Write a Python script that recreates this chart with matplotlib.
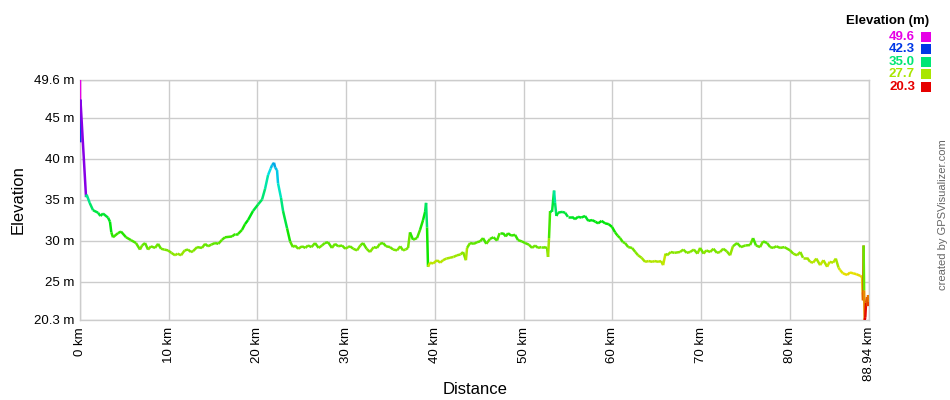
"""
Elevation profile (GPS Visualizer style) — distance vs elevation,
line coloured by elevation on a red -> green -> blue -> magenta hue scale.
"""

import colorsys

import matplotlib
matplotlib.use("Agg")
import matplotlib.pyplot as plt
import numpy as np
from matplotlib.collections import LineCollection

plt.rcParams["font.family"] = ["Liberation Sans", "DejaVu Sans"]

# ---------------------------------------------------------------------------
# Data
# ---------------------------------------------------------------------------

dist_km = [
    0.00, 0.02, 0.05, 0.68, 0.75,
    1.09, 1.47, 2.03, 2.30, 2.59, 3.16, 3.38, 3.53, 3.72, 4.28,
    4.62, 5.19, 5.75, 6.31, 6.76, 7.00, 7.33, 7.67, 8.00, 8.46,
    8.80, 9.13, 9.50, 9.92, 10.30, 10.71, 11.00, 11.39, 11.80, 12.18,
    12.50, 12.74, 13.20, 13.75, 14.10, 14.43, 14.80, 15.22, 15.60, 16.01,
    16.35, 17.14, 17.50, 17.81, 18.26, 18.60, 18.94, 19.50, 20.07, 20.52,
    20.86, 21.20, 21.50, 21.65, 21.87, 22.00, 22.21, 22.32, 22.66, 22.89,
    23.34, 23.68, 24.00, 24.24, 24.60, 25.03, 25.40, 25.70, 26.10, 26.49,
    26.90, 27.28, 27.60, 27.96, 28.40, 28.75, 29.10, 29.54, 29.90, 30.21,
    30.44, 30.80, 31.23, 31.60, 31.91, 32.30, 32.69, 33.10, 33.48, 33.80,
    34.16, 34.50, 34.95, 35.30, 35.74, 36.10, 36.41, 36.70, 36.98, 37.20,
    37.54, 37.99, 38.33, 38.67, 38.90, 39.01, 39.12, 39.23, 39.46, 39.80,
    40.25, 40.60, 40.92, 41.30, 41.71, 42.10, 42.50, 42.90, 43.18, 43.50,
    43.63, 43.97, 44.40, 44.76, 45.10, 45.43, 45.80, 46.22, 46.60, 47.01,
    47.30, 47.69, 48.00, 48.25, 48.60, 49.04, 49.38, 49.80, 50.17, 50.60,
    50.96, 51.30, 51.63, 52.00, 52.30, 52.65, 52.76, 52.87, 52.99, 53.21,
    53.44, 53.55, 53.70, 53.89, 54.34, 54.68, 55.00, 55.47, 55.80, 56.14,
    56.50, 56.93, 57.30, 57.72, 58.10, 58.40, 58.80, 59.19, 59.60, 59.98,
    60.32, 60.60, 60.88, 61.20, 61.44, 61.80, 62.23, 62.60, 62.91, 63.30,
    63.70, 64.10, 64.49, 64.80, 65.16, 65.50, 65.73, 66.00, 66.18, 66.60,
    67.00, 67.64, 68.00, 68.40, 68.77, 69.20, 69.60, 69.90, 70.30, 70.60,
    71.03, 71.40, 71.80, 72.15, 72.50, 72.90, 73.28, 73.60, 74.07, 74.50,
    75.00, 75.54, 75.87, 76.20, 76.66, 77.00, 77.45, 77.80, 78.13, 78.50,
    78.92, 79.40, 80.05, 80.40, 80.83, 81.20, 81.50, 81.96, 82.30, 82.64,
    83.00, 83.43, 83.80, 84.22, 84.50, 84.89, 85.20, 85.50, 85.68, 86.00,
    86.47, 86.80, 87.15, 87.50, 87.94, 88.16, 88.22, 88.27, 88.33, 88.39,
    88.45, 88.52, 88.61, 88.73, 88.80, 88.84, 88.94,
]

elev_m = [
    49.6, 42.0, 47.2, 35.3, 35.6,
    34.6, 33.7, 33.4, 33.0, 33.3, 32.8, 32.3, 31.0, 30.4, 30.9,
    31.1, 30.4, 30.05, 29.7, 28.9, 29.4, 29.7, 28.9, 29.3, 29.1,
    29.6, 29.0, 28.9, 28.8, 28.5, 28.2, 28.4, 28.2, 28.8, 28.9,
    28.6, 28.7, 29.2, 29.1, 29.6, 29.3, 29.5, 29.7, 29.6, 30.1,
    30.4, 30.5, 30.8, 30.8, 31.3, 32.0, 32.5, 33.6, 34.4, 35.0,
    36.3, 38.0, 38.8, 39.2, 39.5, 38.9, 38.6, 37.0, 35.2, 33.6,
    31.5, 29.9, 29.2, 29.4, 29.0, 29.3, 29.1, 29.4, 29.2, 29.7,
    29.1, 29.4, 29.7, 29.8, 29.1, 29.6, 29.3, 29.4, 29.0, 29.2,
    29.3, 29.0, 28.8, 29.4, 29.7, 29.0, 28.6, 29.2, 29.1, 29.6,
    29.7, 29.3, 29.2, 28.9, 28.8, 29.3, 28.8, 28.9, 29.1, 31.0,
    30.1, 30.3, 31.3, 32.5, 33.5, 34.6, 31.6, 26.8, 27.3, 27.2,
    27.6, 27.3, 27.6, 27.8, 27.9, 28.0, 28.2, 28.3, 28.6, 27.6,
    29.1, 29.7, 29.6, 29.8, 29.9, 30.3, 29.6, 30.2, 30.4, 30.0,
    30.9, 30.9, 30.5, 30.9, 30.6, 30.7, 30.05, 29.9, 29.7, 29.5,
    29.1, 29.4, 29.1, 29.2, 29.2, 29.1, 28.0, 30.3, 33.6, 33.5,
    36.1, 34.6, 33.0, 33.4, 33.5, 33.4, 32.9, 32.9, 32.6, 32.9,
    32.8, 33.0, 32.4, 32.5, 32.3, 32.1, 32.4, 32.1, 32.0, 31.65,
    31.0, 30.6, 30.3, 29.8, 29.7, 29.2, 29.1, 28.6, 28.2, 27.9,
    27.4, 27.5, 27.4, 27.5, 27.4, 27.5, 27.0, 28.4, 28.2, 28.6,
    28.5, 28.6, 28.9, 28.5, 28.6, 28.9, 28.4, 29.1, 28.4, 28.8,
    28.6, 29.0, 28.5, 28.6, 29.0, 28.7, 28.2, 29.3, 29.7, 29.2,
    29.4, 29.45, 30.3, 29.4, 29.2, 29.9, 29.7, 29.2, 29.1, 29.3,
    29.1, 29.2, 28.8, 28.4, 28.2, 28.6, 27.9, 27.9, 27.4, 27.3,
    27.8, 27.0, 27.6, 26.8, 27.4, 27.3, 27.8, 26.7, 26.4, 26.0,
    25.8, 26.1, 26.0, 25.9, 25.7, 25.55, 23.7, 22.7, 29.4, 23.9,
    20.3, 20.6, 22.4, 23.1, 22.0, 23.35, 22.5,
]

y_ticks = [20.3, 25, 30, 35, 40, 45, 49.6]
y_tick_labels = ["20.3 m", "25 m", "30 m", "35 m", "40 m", "45 m", "49.6 m"]
x_ticks = [0, 10, 20, 30, 40, 50, 60, 70, 80, 88.94]
x_tick_labels = ["0 km", "10 km", "20 km", "30 km", "40 km", "50 km",
                 "60 km", "70 km", "80 km", "88.94 km"]
legend_values = [49.6, 42.3, 35.0, 27.7, 20.3]

ELEV_MIN, ELEV_MAX = 20.3, 49.6
GRID = "#cccccc"


def elev_colour(v):
    # hue 0 (red) at the minimum up to 300 (magenta) at the maximum
    frac = (v - ELEV_MIN) / (ELEV_MAX - ELEV_MIN)
    frac = min(max(frac, 0.0), 1.0)
    return colorsys.hsv_to_rgb(frac * 300.0 / 360.0, 1.0, 0.9)


# ---------------------------------------------------------------------------
# Figure
# ---------------------------------------------------------------------------

fig = plt.figure(figsize=(9.5, 4.0), dpi=100)
ax = fig.add_axes([80 / 950, 80 / 400, 789 / 950, 240 / 400])

x = np.asarray(dist_km)
y = np.asarray(elev_m)
pts = np.column_stack([x, y]).reshape(-1, 1, 2)
segs = np.concatenate([pts[:-1], pts[1:]], axis=1)
colours = [elev_colour(v) for v in y[:-1]]
lc = LineCollection(segs, colors=colours, linewidths=1.8, capstyle="butt",
                    joinstyle="miter", zorder=3)
ax.add_collection(lc)

ax.set_xlim(0, 88.94)
ax.set_ylim(ELEV_MIN, ELEV_MAX)

ax.set_yticks(y_ticks)
ax.set_yticklabels(y_tick_labels, fontsize=9.5)
ax.set_xticks(x_ticks)
ax.set_xticklabels(x_tick_labels, rotation=90, fontsize=9.5)
ax.tick_params(length=0, pad=4)
ax.tick_params(axis="x", pad=5)

ax.grid(True, color=GRID, linewidth=1.0, zorder=0)
for sp in ax.spines.values():
    sp.set_color(GRID)
    sp.set_linewidth(1.0)

fig.text(475 / 950, 1 - 389 / 400, "Distance", ha="center", va="center",
         fontsize=12)
fig.text(18 / 950, 1 - 200 / 400, "Elevation", ha="center", va="center",
         rotation=90, fontsize=12)

# Colour legend (top right)
fig.text(929 / 950, 1 - 21 / 400, "Elevation (m)", ha="right", va="center",
         fontsize=9.5, fontweight="bold")
for i, v in enumerate(legend_values):
    yc = 1 - (37 + i * 12.4) / 400
    c = elev_colour(v)
    fig.text(915 / 950, yc, f"{v:.1f}", ha="right", va="center",
             fontsize=9.5, fontweight="bold", color=c)
    fig.patches.append(plt.Rectangle((921 / 950, yc - 5 / 400), 10 / 950,
                                     10 / 400, transform=fig.transFigure,
                                     facecolor=c, edgecolor="none"))

fig.text(943 / 950, 1 - 215 / 400, "created by GPSVisualizer.com",
         ha="center", va="center", rotation=90, fontsize=8, color="#666666")

fig.savefig("out.png", dpi=100)
